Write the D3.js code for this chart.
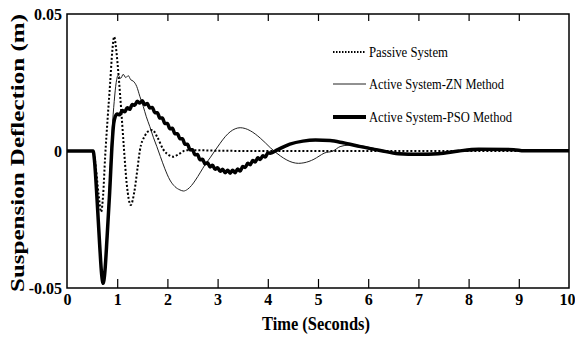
<!DOCTYPE html>
<html>
<head>
<meta charset="utf-8">
<script src="https://cdn.jsdelivr.net/npm/d3@7/dist/d3.min.js"></script>
<style>
  html, body { margin: 0; padding: 0; background: #fff; }
  svg { display: block; }
  text { font-family: "Liberation Serif", "Times New Roman", serif; fill: #000; }
</style>
</head>
<body>
<svg id="chart" width="575" height="354"></svg>
<script>
// Suspension deflection response: passive vs. two active controllers
const xTicks = [0, 1, 2, 3, 4, 5, 6, 7, 8, 9, 10];
const yTicks = [-0.05, 0, 0.05];
const yTickLabels = ["-0.05", "0", "0.05"];

const seriesNames = ["Passive System", "Active System-ZN Method", "Active System-PSO Method"];

// [time (s), deflection (m)]
const passive = [
  [0, 0], [0.52, 0], [0.58, -0.007], [0.63, -0.016], [0.68, -0.0222], [0.72, -0.016],
  [0.76, -0.002], [0.81, 0.012], [0.86, 0.025], [0.90, 0.036], [0.94, 0.0417],
  [0.98, 0.037], [1.03, 0.027], [1.08, 0.015], [1.13, 0.002], [1.19, -0.012],
  [1.27, -0.0197], [1.34, -0.015], [1.40, -0.007], [1.45, 0.0], [1.55, 0.0055],
  [1.62, 0.0072], [1.70, 0.0077], [1.80, 0.005], [1.92, 0.0005], [2.05, -0.0017],
  [2.12, -0.0021], [2.22, -0.0012], [2.38, 0.0003], [2.6, 0.0003], [3.0, 0.0001],
  [4.0, 0], [6.0, 0], [8.0, 0], [10.0, 0]
];

const activeZN = [
  [0, 0], [0.52, 0], [0.55, -0.004], [0.60, -0.018], [0.65, -0.034], [0.69, -0.045],
  [0.72, -0.0483], [0.75, -0.045], [0.80, -0.029], [0.85, -0.010], [0.90, 0.008],
  [0.94, 0.018], [0.98, 0.025], [1.02, 0.0277], [1.07, 0.0265], [1.12, 0.028],
  [1.17, 0.0268], [1.22, 0.0275], [1.27, 0.026], [1.32, 0.0255], [1.39, 0.0235],
  [1.45, 0.020], [1.52, 0.0162], [1.58, 0.0125], [1.65, 0.0089], [1.72, 0.005],
  [1.79, 0.0016], [1.86, -0.002], [1.95, -0.0065], [2.05, -0.0106], [2.15, -0.0130],
  [2.25, -0.0142], [2.32, -0.0146], [2.40, -0.0140], [2.48, -0.0126], [2.56, -0.0106],
  [2.65, -0.0080], [2.75, -0.0050], [2.85, -0.0025], [2.95, 0.0002], [3.05, 0.0028],
  [3.15, 0.0052], [3.25, 0.0070], [3.35, 0.0081], [3.45, 0.0085], [3.55, 0.0082],
  [3.65, 0.0074], [3.75, 0.0062], [3.85, 0.0047], [3.95, 0.0030], [4.05, 0.0012],
  [4.15, -0.0004], [4.25, -0.0018], [4.38, -0.0033], [4.50, -0.0042], [4.61, -0.0045],
  [4.72, -0.0043], [4.82, -0.0038], [4.92, -0.0030], [5.02, -0.0019], [5.12, -0.0008],
  [5.30, 0.0], [5.44, 0.0016], [5.60, 0.0021], [5.77, 0.0021], [5.95, 0.0016],
  [6.2, 0.0006], [6.5, -0.0004], [6.9, -0.0009], [7.3, -0.0008], [7.8, -0.0002],
  [8.3, 0.0002], [9.0, 0.0002], [10.0, 0.0001]
];

const activePSO = [
  [0, 0], [0.52, 0], [0.55, -0.004], [0.60, -0.018], [0.65, -0.034], [0.69, -0.045],
  [0.72, -0.0483], [0.75, -0.045], [0.80, -0.031], [0.85, -0.015], [0.90, 0.003],
  [0.93, 0.010], [0.96, 0.0125],
  [1.00, 0.0135], [1.05, 0.0132], [1.10, 0.0148], [1.15, 0.0143], [1.20, 0.0158],
  [1.25, 0.0152], [1.30, 0.0170], [1.35, 0.0167], [1.40, 0.0182], [1.45, 0.0175],
  [1.50, 0.0183], [1.55, 0.0169], [1.60, 0.0173], [1.65, 0.0157], [1.70, 0.0159],
  [1.75, 0.0140], [1.80, 0.0140], [1.85, 0.0120], [1.90, 0.0120], [1.95, 0.0100],
  [2.00, 0.0100], [2.05, 0.0081], [2.10, 0.0083], [2.15, 0.0063], [2.20, 0.0063],
  [2.25, 0.0045], [2.30, 0.0045], [2.35, 0.0025], [2.40, 0.0025], [2.45, 0.0005],
  [2.50, 0.0005], [2.55, -0.0014], [2.60, -0.0013], [2.65, -0.0032], [2.70, -0.0030],
  [2.75, -0.0047], [2.80, -0.0043], [2.85, -0.0058], [2.90, -0.0052], [2.95, -0.0067],
  [3.00, -0.0061], [3.05, -0.0074], [3.10, -0.0067], [3.15, -0.0079], [3.20, -0.0070],
  [3.25, -0.0081], [3.30, -0.0070], [3.35, -0.0079], [3.40, -0.0066], [3.45, -0.0073],
  [3.50, -0.0057], [3.55, -0.0060], [3.60, -0.0045], [3.65, -0.0050], [3.70, -0.0035],
  [3.75, -0.0040], [3.80, -0.0025], [3.85, -0.0031], [3.90, -0.0017], [3.95, -0.0022],
  [4.00, -0.0007], [4.05, -0.0008], [4.20, 0.0005], [4.44, 0.0025], [4.70, 0.0036],
  [4.95, 0.0040], [5.24, 0.0038], [5.50, 0.0030], [5.85, 0.0016], [6.24, 0.0002],
  [6.60, -0.0010], [7.00, -0.0012], [7.40, -0.0010], [7.80, 0.0], [8.20, 0.0006],
  [8.90, 0.0005], [9.10, 0.0001], [10.0, 0.0001]
];

const svg = d3.select("#chart");
const margin = { left: 67, right: 6, top: 14, bottom: 66 };
const W = 575, H = 354;

const x = d3.scaleLinear().domain([0, 10]).range([margin.left, W - margin.right]);
const y = d3.scaleLinear().domain([-0.05, 0.05]).range([H - margin.bottom, margin.top]);

// plot area clip
svg.append("defs").append("clipPath").attr("id", "plotClip")
  .append("rect")
  .attr("x", x(0)).attr("y", y(0.05))
  .attr("width", x(10) - x(0)).attr("height", y(-0.05) - y(0.05));

const line = d3.line()
  .x(d => x(d[0]))
  .y(d => y(d[1]))
  .curve(d3.curveMonotoneX);

const plot = svg.append("g").attr("clip-path", "url(#plotClip)");

const styles = [
  { data: passive, width: 2, dash: "2,2", color: "#000" },
  { data: activeZN, width: 1, dash: null, color: "#222" },
  { data: activePSO, width: 3.5, dash: null, color: "#000" }
];

// thin and dotted curves first, heavy PSO trace on top
[1, 0, 2].forEach(i => {
  const s = styles[i];
  plot.append("path")
    .datum(s.data)
    .attr("fill", "none")
    .attr("stroke", s.color)
    .attr("stroke-width", s.width)
    .attr("stroke-linejoin", "round")
    .attr("stroke-dasharray", s.dash)
    .attr("d", line);
});

// bottom axis with inward ticks
const xAxis = d3.axisBottom(x).tickValues(xTicks).tickSizeInner(-9).tickSizeOuter(0)
  .tickFormat(d3.format("d"));
const gx = svg.append("g").attr("transform", `translate(0,${y(-0.05)})`).call(xAxis);
gx.select(".domain").remove();
gx.selectAll(".tick line").attr("stroke", "#000").attr("stroke-width", 1.2)
  .filter(d => d === 0 || d === 10).remove();
gx.selectAll(".tick text")
  .attr("y", 17)
  .attr("dy", 0)
  .attr("font-family", "Liberation Serif, serif")
  .attr("font-weight", "bold")
  .attr("font-size", 16);
// last label sits against the right edge of the page
gx.selectAll(".tick text").filter(d => d === 10)
  .attr("text-anchor", "end")
  .attr("x", W - x(10));

// top axis: ticks only
const xTop = d3.axisTop(x).tickValues(xTicks.filter(d => d > 0 && d < 10))
  .tickSizeInner(-7).tickSizeOuter(0).tickFormat("");
const gt = svg.append("g").attr("transform", `translate(0,${y(0.05)})`).call(xTop);
gt.select(".domain").remove();
gt.selectAll(".tick line").attr("stroke", "#000").attr("stroke-width", 1.2);

// left axis labels only
const yAxis = d3.axisLeft(y).tickValues(yTicks).tickSize(0)
  .tickFormat((d, i) => yTickLabels[i]);
const gy = svg.append("g").attr("transform", `translate(${x(0)},0)`).call(yAxis);
gy.select(".domain").remove();
gy.selectAll(".tick text")
  .attr("x", -5)
  .attr("font-family", "Liberation Serif, serif")
  .attr("font-weight", "bold")
  .attr("font-size", 16);

// frame
svg.append("rect")
  .attr("x", x(0)).attr("y", y(0.05))
  .attr("width", x(10) - x(0)).attr("height", y(-0.05) - y(0.05))
  .attr("fill", "none").attr("stroke", "#000").attr("stroke-width", 1.5);

// axis titles
svg.append("text")
  .attr("x", (x(0) + x(10)) / 2 - 2)
  .attr("y", 330)
  .attr("text-anchor", "middle")
  .attr("font-weight", "bold")
  .attr("font-size", 18)
  .attr("textLength", 108)
  .attr("lengthAdjust", "spacingAndGlyphs")
  .text("Time (Seconds)");

svg.append("text")
  .attr("transform", "translate(24,153) rotate(-90)")
  .attr("text-anchor", "middle")
  .attr("font-weight", "bold")
  .attr("font-size", 18)
  .attr("textLength", 278)
  .attr("lengthAdjust", "spacingAndGlyphs")
  .text("Suspension Deflection (m)");

// legend
const legendRows = [52, 84, 117];
const legendWidths = [79, 135, 143];
const legend = svg.append("g");
seriesNames.forEach((name, i) => {
  const s = styles[i];
  legend.append("line")
    .attr("x1", 333).attr("x2", 366)
    .attr("y1", legendRows[i]).attr("y2", legendRows[i])
    .attr("stroke", s.color)
    .attr("stroke-width", i === 2 ? 4 : (i === 0 ? 2 : 1))
    .attr("stroke-dasharray", i === 0 ? "1.5,1.5" : null);
  legend.append("text")
    .attr("x", 369)
    .attr("y", legendRows[i] + 5)
    .attr("font-size", 14)
    .attr("textLength", legendWidths[i])
    .attr("lengthAdjust", "spacingAndGlyphs")
    .text(name);
});
</script>
</body>
</html>
